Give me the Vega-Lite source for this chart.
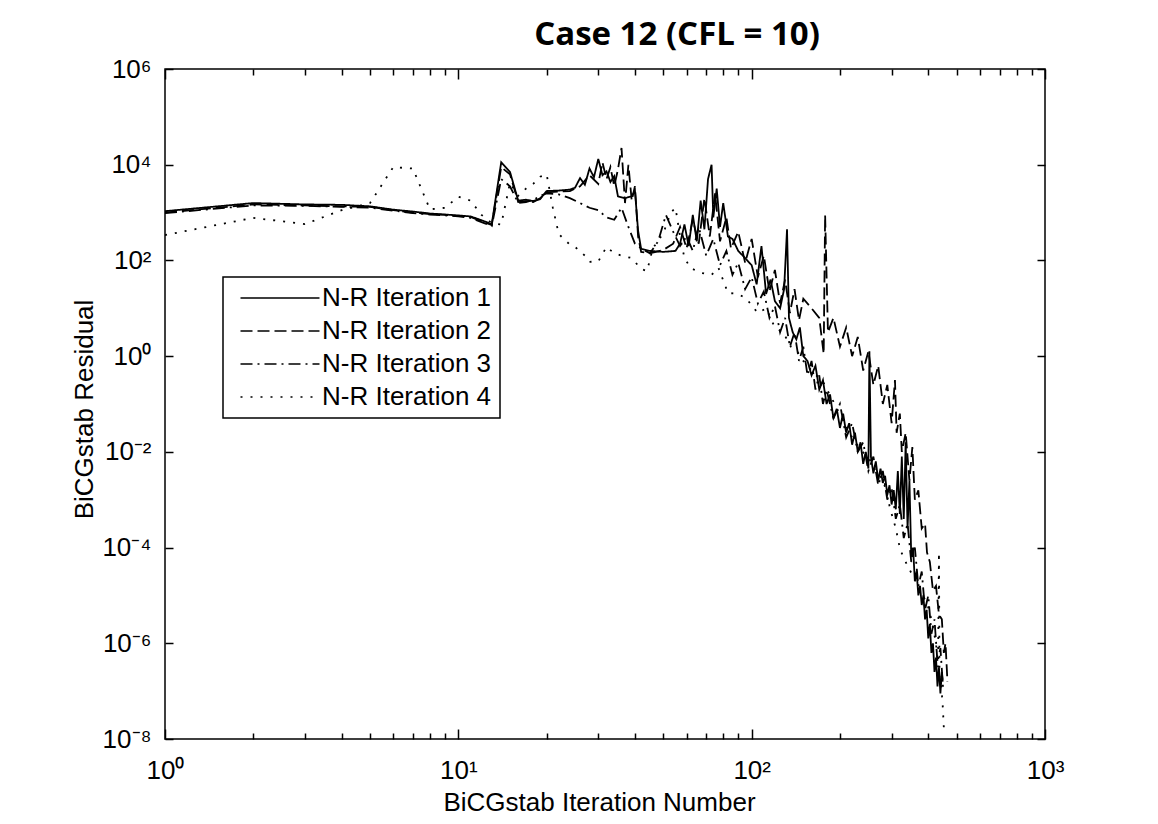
{
"$schema": "https://vega.github.io/schema/vega-lite/v6.json",
"width": 880, "height": 670,
"autosize": {"type": "none"},
"padding": {"left": 165, "top": 69, "right": 113, "bottom": 85},
"background": "white",
"title": {"text": "Case 12 (CFL = 10)", "font": "Open Sans", "fontSize": 33, "fontWeight": "bold", "color": "black", "anchor": "middle", "dx": 72, "dy": 46, "offset": 24, "baseline": "alphabetic"},
"config": {
  "view": {"stroke": "black", "strokeWidth": 1.5},
  "axis": {"domain": false, "grid": false, "tickColor": "black", "tickWidth": 1.5, "labelColor": "black", "labelFont": "Liberation Sans", "labelFontSize": 26, "titleFont": "Liberation Sans", "titleFontSize": 26, "titleFontWeight": "normal", "titleColor": "black", "labelFlush": false, "labelOverlap": false, "labelBound": false}
},
"data": {"values": [
{"n":1,"r":1070,"s":"N-R Iteration 1"},{"n":2,"r":1580,"s":"N-R Iteration 1"},{"n":3,"r":1480,"s":"N-R Iteration 1"},{"n":4,"r":1450,"s":"N-R Iteration 1"},{"n":5,"r":1350,"s":"N-R Iteration 1"},{"n":6,"r":1150,"s":"N-R Iteration 1"},{"n":7,"r":1050,"s":"N-R Iteration 1"},{"n":8,"r":955,"s":"N-R Iteration 1"},{"n":9,"r":912,"s":"N-R Iteration 1"},{"n":10,"r":871,"s":"N-R Iteration 1"},{"n":11,"r":832,"s":"N-R Iteration 1"},{"n":12,"r":692,"s":"N-R Iteration 1"},{"n":13,"r":575,"s":"N-R Iteration 1"},{"n":14,"r":11200,"s":"N-R Iteration 1"},{"n":15,"r":7080,"s":"N-R Iteration 1"},{"n":16,"r":1780,"s":"N-R Iteration 1"},{"n":17,"r":1860,"s":"N-R Iteration 1"},{"n":18,"r":1740,"s":"N-R Iteration 1"},{"n":19,"r":1910,"s":"N-R Iteration 1"},{"n":20,"r":2820,"s":"N-R Iteration 1"},{"n":22,"r":2880,"s":"N-R Iteration 1"},{"n":24,"r":3020,"s":"N-R Iteration 1"},{"n":25,"r":3310,"s":"N-R Iteration 1"},{"n":26,"r":5250,"s":"N-R Iteration 1"},{"n":27,"r":3800,"s":"N-R Iteration 1"},{"n":28,"r":8320,"s":"N-R Iteration 1"},{"n":29,"r":5500,"s":"N-R Iteration 1"},{"n":30,"r":13200,"s":"N-R Iteration 1"},{"n":31,"r":6030,"s":"N-R Iteration 1"},{"n":32,"r":7240,"s":"N-R Iteration 1"},{"n":33,"r":4370,"s":"N-R Iteration 1"},{"n":34,"r":5750,"s":"N-R Iteration 1"},{"n":35,"r":2190,"s":"N-R Iteration 1"},{"n":37,"r":2000,"s":"N-R Iteration 1"},{"n":39,"r":2190,"s":"N-R Iteration 1"},{"n":40,"r":2880,"s":"N-R Iteration 1"},{"n":41,"r":417,"s":"N-R Iteration 1"},{"n":42,"r":174,"s":"N-R Iteration 1"},{"n":45,"r":158,"s":"N-R Iteration 1"},{"n":50,"r":151,"s":"N-R Iteration 1"},{"n":55,"r":158,"s":"N-R Iteration 1"},{"n":57,"r":224,"s":"N-R Iteration 1"},{"n":59,"r":562,"s":"N-R Iteration 1"},{"n":61,"r":200,"s":"N-R Iteration 1"},{"n":63,"r":891,"s":"N-R Iteration 1"},{"n":65,"r":251,"s":"N-R Iteration 1"},{"n":67,"r":1780,"s":"N-R Iteration 1"},{"n":69,"r":447,"s":"N-R Iteration 1"},{"n":71,"r":5010,"s":"N-R Iteration 1"},{"n":73,"r":10000,"s":"N-R Iteration 1"},{"n":74,"r":794,"s":"N-R Iteration 1"},{"n":76,"r":3160,"s":"N-R Iteration 1"},{"n":78,"r":501,"s":"N-R Iteration 1"},{"n":80,"r":1580,"s":"N-R Iteration 1"},{"n":83,"r":316,"s":"N-R Iteration 1"},{"n":86,"r":282,"s":"N-R Iteration 1"},{"n":90,"r":158,"s":"N-R Iteration 1"},{"n":95,"r":112,"s":"N-R Iteration 1"},{"n":100,"r":79.4,"s":"N-R Iteration 1"},{"n":104,"r":31.6,"s":"N-R Iteration 1"},{"n":108,"r":200,"s":"N-R Iteration 1"},{"n":112,"r":20,"s":"N-R Iteration 1"},{"n":116,"r":39.8,"s":"N-R Iteration 1"},{"n":120,"r":14.1,"s":"N-R Iteration 1"},{"n":125,"r":10,"s":"N-R Iteration 1"},{"n":129,"r":25.1,"s":"N-R Iteration 1"},{"n":132,"r":447,"s":"N-R Iteration 1"},{"n":134,"r":6.31,"s":"N-R Iteration 1"},{"n":138,"r":3.16,"s":"N-R Iteration 1"},{"n":142,"r":2.24,"s":"N-R Iteration 1"},{"n":146,"r":3.98,"s":"N-R Iteration 1"},{"n":150,"r":1,"s":"N-R Iteration 1"},{"n":155,"r":0.794,"s":"N-R Iteration 1"},{"n":160,"r":0.398,"s":"N-R Iteration 1"},{"n":165,"r":0.631,"s":"N-R Iteration 1"},{"n":170,"r":0.2,"s":"N-R Iteration 1"},{"n":175,"r":0.316,"s":"N-R Iteration 1"},{"n":180,"r":0.1,"s":"N-R Iteration 1"},{"n":185,"r":0.158,"s":"N-R Iteration 1"},{"n":190,"r":0.0501,"s":"N-R Iteration 1"},{"n":195,"r":0.0794,"s":"N-R Iteration 1"},{"n":200,"r":0.0316,"s":"N-R Iteration 1"},{"n":205,"r":0.0631,"s":"N-R Iteration 1"},{"n":210,"r":0.0251,"s":"N-R Iteration 1"},{"n":215,"r":0.0398,"s":"N-R Iteration 1"},{"n":220,"r":0.0141,"s":"N-R Iteration 1"},{"n":225,"r":0.0251,"s":"N-R Iteration 1"},{"n":230,"r":0.01,"s":"N-R Iteration 1"},{"n":235,"r":0.0158,"s":"N-R Iteration 1"},{"n":240,"r":0.00562,"s":"N-R Iteration 1"},{"n":245,"r":0.01,"s":"N-R Iteration 1"},{"n":250,"r":0.00447,"s":"N-R Iteration 1"},{"n":252,"r":1.26,"s":"N-R Iteration 1"},{"n":255,"r":0.00794,"s":"N-R Iteration 1"},{"n":260,"r":0.00355,"s":"N-R Iteration 1"},{"n":265,"r":0.00631,"s":"N-R Iteration 1"},{"n":270,"r":0.00251,"s":"N-R Iteration 1"},{"n":275,"r":0.00447,"s":"N-R Iteration 1"},{"n":280,"r":0.00224,"s":"N-R Iteration 1"},{"n":285,"r":0.00316,"s":"N-R Iteration 1"},{"n":290,"r":0.00126,"s":"N-R Iteration 1"},{"n":295,"r":0.002,"s":"N-R Iteration 1"},{"n":300,"r":0.000794,"s":"N-R Iteration 1"},{"n":305,"r":0.00158,"s":"N-R Iteration 1"},{"n":310,"r":0.000631,"s":"N-R Iteration 1"},{"n":315,"r":0.00398,"s":"N-R Iteration 1"},{"n":320,"r":0.000501,"s":"N-R Iteration 1"},{"n":325,"r":0.00794,"s":"N-R Iteration 1"},{"n":330,"r":0.000398,"s":"N-R Iteration 1"},{"n":335,"r":0.0158,"s":"N-R Iteration 1"},{"n":340,"r":0.000251,"s":"N-R Iteration 1"},{"n":345,"r":0.00251,"s":"N-R Iteration 1"},{"n":350,"r":6.31e-5,"s":"N-R Iteration 1"},{"n":355,"r":1e-4,"s":"N-R Iteration 1"},{"n":360,"r":2e-5,"s":"N-R Iteration 1"},{"n":365,"r":3.16e-5,"s":"N-R Iteration 1"},{"n":370,"r":1e-5,"s":"N-R Iteration 1"},{"n":375,"r":1.58e-5,"s":"N-R Iteration 1"},{"n":380,"r":6.31e-6,"s":"N-R Iteration 1"},{"n":385,"r":1e-5,"s":"N-R Iteration 1"},{"n":390,"r":3.16e-6,"s":"N-R Iteration 1"},{"n":395,"r":5.01e-6,"s":"N-R Iteration 1"},{"n":400,"r":1.26e-6,"s":"N-R Iteration 1"},{"n":405,"r":2.51e-6,"s":"N-R Iteration 1"},{"n":410,"r":6.31e-7,"s":"N-R Iteration 1"},{"n":415,"r":1e-6,"s":"N-R Iteration 1"},{"n":420,"r":2.51e-7,"s":"N-R Iteration 1"},{"n":425,"r":5.01e-7,"s":"N-R Iteration 1"},{"n":430,"r":1.26e-7,"s":"N-R Iteration 1"},{"n":435,"r":3.16e-7,"s":"N-R Iteration 1"},{"n":440,"r":8.91e-8,"s":"N-R Iteration 1"},{"n":445,"r":2.51e-7,"s":"N-R Iteration 1"},{"n":448,"r":1.58e-7,"s":"N-R Iteration 1"},
{"n":1,"r":1000,"s":"N-R Iteration 2"},{"n":2,"r":1480,"s":"N-R Iteration 2"},{"n":3,"r":1410,"s":"N-R Iteration 2"},{"n":4,"r":1350,"s":"N-R Iteration 2"},{"n":5,"r":1320,"s":"N-R Iteration 2"},{"n":6,"r":1120,"s":"N-R Iteration 2"},{"n":7,"r":1000,"s":"N-R Iteration 2"},{"n":8,"r":933,"s":"N-R Iteration 2"},{"n":9,"r":891,"s":"N-R Iteration 2"},{"n":10,"r":851,"s":"N-R Iteration 2"},{"n":11,"r":813,"s":"N-R Iteration 2"},{"n":12,"r":661,"s":"N-R Iteration 2"},{"n":13,"r":550,"s":"N-R Iteration 2"},{"n":14,"r":8910,"s":"N-R Iteration 2"},{"n":15,"r":6310,"s":"N-R Iteration 2"},{"n":16,"r":1660,"s":"N-R Iteration 2"},{"n":17,"r":1740,"s":"N-R Iteration 2"},{"n":18,"r":1660,"s":"N-R Iteration 2"},{"n":19,"r":2000,"s":"N-R Iteration 2"},{"n":20,"r":2630,"s":"N-R Iteration 2"},{"n":22,"r":2750,"s":"N-R Iteration 2"},{"n":24,"r":2820,"s":"N-R Iteration 2"},{"n":26,"r":3550,"s":"N-R Iteration 2"},{"n":28,"r":6030,"s":"N-R Iteration 2"},{"n":30,"r":3980,"s":"N-R Iteration 2"},{"n":31,"r":11200,"s":"N-R Iteration 2"},{"n":32,"r":5010,"s":"N-R Iteration 2"},{"n":33,"r":8910,"s":"N-R Iteration 2"},{"n":34,"r":3550,"s":"N-R Iteration 2"},{"n":35,"r":7940,"s":"N-R Iteration 2"},{"n":36,"r":22400,"s":"N-R Iteration 2"},{"n":37,"r":1580,"s":"N-R Iteration 2"},{"n":38,"r":10000,"s":"N-R Iteration 2"},{"n":39,"r":1780,"s":"N-R Iteration 2"},{"n":40,"r":3550,"s":"N-R Iteration 2"},{"n":41,"r":316,"s":"N-R Iteration 2"},{"n":42,"r":151,"s":"N-R Iteration 2"},{"n":45,"r":141,"s":"N-R Iteration 2"},{"n":50,"r":166,"s":"N-R Iteration 2"},{"n":54,"r":224,"s":"N-R Iteration 2"},{"n":57,"r":501,"s":"N-R Iteration 2"},{"n":60,"r":178,"s":"N-R Iteration 2"},{"n":63,"r":708,"s":"N-R Iteration 2"},{"n":66,"r":224,"s":"N-R Iteration 2"},{"n":69,"r":2000,"s":"N-R Iteration 2"},{"n":72,"r":316,"s":"N-R Iteration 2"},{"n":75,"r":2510,"s":"N-R Iteration 2"},{"n":78,"r":251,"s":"N-R Iteration 2"},{"n":82,"r":794,"s":"N-R Iteration 2"},{"n":85,"r":178,"s":"N-R Iteration 2"},{"n":90,"r":398,"s":"N-R Iteration 2"},{"n":95,"r":89.1,"s":"N-R Iteration 2"},{"n":100,"r":282,"s":"N-R Iteration 2"},{"n":105,"r":44.7,"s":"N-R Iteration 2"},{"n":110,"r":126,"s":"N-R Iteration 2"},{"n":115,"r":22.4,"s":"N-R Iteration 2"},{"n":120,"r":63.1,"s":"N-R Iteration 2"},{"n":125,"r":12.6,"s":"N-R Iteration 2"},{"n":130,"r":39.8,"s":"N-R Iteration 2"},{"n":135,"r":7.94,"s":"N-R Iteration 2"},{"n":140,"r":25.1,"s":"N-R Iteration 2"},{"n":145,"r":5.62,"s":"N-R Iteration 2"},{"n":150,"r":15.8,"s":"N-R Iteration 2"},{"n":160,"r":10,"s":"N-R Iteration 2"},{"n":170,"r":6.31,"s":"N-R Iteration 2"},{"n":176,"r":1.12,"s":"N-R Iteration 2"},{"n":178,"r":891,"s":"N-R Iteration 2"},{"n":182,"r":3.16,"s":"N-R Iteration 2"},{"n":190,"r":6.31,"s":"N-R Iteration 2"},{"n":200,"r":1.58,"s":"N-R Iteration 2"},{"n":210,"r":3.98,"s":"N-R Iteration 2"},{"n":220,"r":1,"s":"N-R Iteration 2"},{"n":230,"r":2.51,"s":"N-R Iteration 2"},{"n":240,"r":0.501,"s":"N-R Iteration 2"},{"n":250,"r":1.26,"s":"N-R Iteration 2"},{"n":260,"r":0.251,"s":"N-R Iteration 2"},{"n":270,"r":0.631,"s":"N-R Iteration 2"},{"n":280,"r":0.1,"s":"N-R Iteration 2"},{"n":290,"r":0.251,"s":"N-R Iteration 2"},{"n":300,"r":0.0398,"s":"N-R Iteration 2"},{"n":308,"r":0.316,"s":"N-R Iteration 2"},{"n":312,"r":0.0251,"s":"N-R Iteration 2"},{"n":320,"r":0.0631,"s":"N-R Iteration 2"},{"n":325,"r":0.01,"s":"N-R Iteration 2"},{"n":335,"r":0.0251,"s":"N-R Iteration 2"},{"n":345,"r":0.00251,"s":"N-R Iteration 2"},{"n":353,"r":0.0126,"s":"N-R Iteration 2"},{"n":360,"r":0.001,"s":"N-R Iteration 2"},{"n":370,"r":0.00158,"s":"N-R Iteration 2"},{"n":380,"r":2.51e-4,"s":"N-R Iteration 2"},{"n":390,"r":3.16e-4,"s":"N-R Iteration 2"},{"n":396,"r":7.94e-5,"s":"N-R Iteration 2"},{"n":405,"r":5.01e-5,"s":"N-R Iteration 2"},{"n":415,"r":1.26e-5,"s":"N-R Iteration 2"},{"n":425,"r":1.58e-5,"s":"N-R Iteration 2"},{"n":435,"r":3.98e-6,"s":"N-R Iteration 2"},{"n":445,"r":3.16e-6,"s":"N-R Iteration 2"},{"n":452,"r":6.31e-7,"s":"N-R Iteration 2"},{"n":458,"r":1e-6,"s":"N-R Iteration 2"},{"n":465,"r":1.58e-7,"s":"N-R Iteration 2"},
{"n":1,"r":977,"s":"N-R Iteration 3"},{"n":2,"r":1410,"s":"N-R Iteration 3"},{"n":3,"r":1380,"s":"N-R Iteration 3"},{"n":4,"r":1320,"s":"N-R Iteration 3"},{"n":5,"r":1260,"s":"N-R Iteration 3"},{"n":6,"r":1100,"s":"N-R Iteration 3"},{"n":7,"r":977,"s":"N-R Iteration 3"},{"n":8,"r":912,"s":"N-R Iteration 3"},{"n":9,"r":871,"s":"N-R Iteration 3"},{"n":10,"r":832,"s":"N-R Iteration 3"},{"n":11,"r":776,"s":"N-R Iteration 3"},{"n":12,"r":631,"s":"N-R Iteration 3"},{"n":13,"r":525,"s":"N-R Iteration 3"},{"n":14,"r":5010,"s":"N-R Iteration 3"},{"n":15,"r":3550,"s":"N-R Iteration 3"},{"n":16,"r":1580,"s":"N-R Iteration 3"},{"n":17,"r":1660,"s":"N-R Iteration 3"},{"n":18,"r":1820,"s":"N-R Iteration 3"},{"n":19,"r":2240,"s":"N-R Iteration 3"},{"n":20,"r":2510,"s":"N-R Iteration 3"},{"n":22,"r":2400,"s":"N-R Iteration 3"},{"n":24,"r":2000,"s":"N-R Iteration 3"},{"n":26,"r":1580,"s":"N-R Iteration 3"},{"n":28,"r":1260,"s":"N-R Iteration 3"},{"n":30,"r":1120,"s":"N-R Iteration 3"},{"n":32,"r":794,"s":"N-R Iteration 3"},{"n":34,"r":708,"s":"N-R Iteration 3"},{"n":36,"r":1260,"s":"N-R Iteration 3"},{"n":38,"r":501,"s":"N-R Iteration 3"},{"n":40,"r":224,"s":"N-R Iteration 3"},{"n":42,"r":178,"s":"N-R Iteration 3"},{"n":45,"r":141,"s":"N-R Iteration 3"},{"n":48,"r":251,"s":"N-R Iteration 3"},{"n":51,"r":891,"s":"N-R Iteration 3"},{"n":54,"r":398,"s":"N-R Iteration 3"},{"n":57,"r":200,"s":"N-R Iteration 3"},{"n":60,"r":316,"s":"N-R Iteration 3"},{"n":63,"r":158,"s":"N-R Iteration 3"},{"n":66,"r":501,"s":"N-R Iteration 3"},{"n":70,"r":126,"s":"N-R Iteration 3"},{"n":74,"r":282,"s":"N-R Iteration 3"},{"n":78,"r":79.4,"s":"N-R Iteration 3"},{"n":82,"r":158,"s":"N-R Iteration 3"},{"n":86,"r":50.1,"s":"N-R Iteration 3"},{"n":90,"r":89.1,"s":"N-R Iteration 3"},{"n":95,"r":25.1,"s":"N-R Iteration 3"},{"n":100,"r":44.7,"s":"N-R Iteration 3"},{"n":105,"r":12.6,"s":"N-R Iteration 3"},{"n":110,"r":22.4,"s":"N-R Iteration 3"},{"n":115,"r":6.31,"s":"N-R Iteration 3"},{"n":120,"r":11.2,"s":"N-R Iteration 3"},{"n":125,"r":3.16,"s":"N-R Iteration 3"},{"n":130,"r":6.31,"s":"N-R Iteration 3"},{"n":135,"r":1.58,"s":"N-R Iteration 3"},{"n":140,"r":3.16,"s":"N-R Iteration 3"},{"n":145,"r":0.794,"s":"N-R Iteration 3"},{"n":150,"r":1.58,"s":"N-R Iteration 3"},{"n":155,"r":0.398,"s":"N-R Iteration 3"},{"n":160,"r":0.794,"s":"N-R Iteration 3"},{"n":165,"r":0.2,"s":"N-R Iteration 3"},{"n":170,"r":0.398,"s":"N-R Iteration 3"},{"n":175,"r":0.1,"s":"N-R Iteration 3"},{"n":180,"r":0.2,"s":"N-R Iteration 3"},{"n":190,"r":0.0501,"s":"N-R Iteration 3"},{"n":200,"r":0.1,"s":"N-R Iteration 3"},{"n":210,"r":0.02,"s":"N-R Iteration 3"},{"n":220,"r":0.0398,"s":"N-R Iteration 3"},{"n":230,"r":0.01,"s":"N-R Iteration 3"},{"n":240,"r":0.0158,"s":"N-R Iteration 3"},{"n":250,"r":0.00398,"s":"N-R Iteration 3"},{"n":260,"r":0.00794,"s":"N-R Iteration 3"},{"n":270,"r":0.002,"s":"N-R Iteration 3"},{"n":280,"r":0.00398,"s":"N-R Iteration 3"},{"n":290,"r":0.001,"s":"N-R Iteration 3"},{"n":300,"r":0.00178,"s":"N-R Iteration 3"},{"n":310,"r":3.98e-4,"s":"N-R Iteration 3"},{"n":320,"r":7.94e-4,"s":"N-R Iteration 3"},{"n":330,"r":1.58e-4,"s":"N-R Iteration 3"},{"n":340,"r":3.16e-4,"s":"N-R Iteration 3"},{"n":350,"r":5.01e-5,"s":"N-R Iteration 3"},{"n":360,"r":1e-4,"s":"N-R Iteration 3"},{"n":370,"r":1.58e-5,"s":"N-R Iteration 3"},{"n":380,"r":3.16e-5,"s":"N-R Iteration 3"},{"n":390,"r":5.01e-6,"s":"N-R Iteration 3"},{"n":400,"r":1e-5,"s":"N-R Iteration 3"},{"n":410,"r":1.58e-6,"s":"N-R Iteration 3"},{"n":420,"r":3.16e-6,"s":"N-R Iteration 3"},{"n":430,"r":3.98e-7,"s":"N-R Iteration 3"},{"n":440,"r":7.94e-7,"s":"N-R Iteration 3"},{"n":450,"r":1e-7,"s":"N-R Iteration 3"},
{"n":1,"r":339,"s":"N-R Iteration 4"},{"n":2,"r":776,"s":"N-R Iteration 4"},{"n":3,"r":575,"s":"N-R Iteration 4"},{"n":4,"r":1120,"s":"N-R Iteration 4"},{"n":5,"r":1580,"s":"N-R Iteration 4"},{"n":6,"r":8910,"s":"N-R Iteration 4"},{"n":7,"r":8320,"s":"N-R Iteration 4"},{"n":8,"r":1170,"s":"N-R Iteration 4"},{"n":9,"r":1260,"s":"N-R Iteration 4"},{"n":10,"r":2140,"s":"N-R Iteration 4"},{"n":11,"r":1780,"s":"N-R Iteration 4"},{"n":12,"r":891,"s":"N-R Iteration 4"},{"n":13,"r":603,"s":"N-R Iteration 4"},{"n":14,"r":562,"s":"N-R Iteration 4"},{"n":15,"r":4170,"s":"N-R Iteration 4"},{"n":16,"r":2240,"s":"N-R Iteration 4"},{"n":17,"r":3160,"s":"N-R Iteration 4"},{"n":18,"r":3980,"s":"N-R Iteration 4"},{"n":19,"r":5620,"s":"N-R Iteration 4"},{"n":20,"r":6310,"s":"N-R Iteration 4"},{"n":21,"r":1260,"s":"N-R Iteration 4"},{"n":22,"r":355,"s":"N-R Iteration 4"},{"n":24,"r":214,"s":"N-R Iteration 4"},{"n":25,"r":191,"s":"N-R Iteration 4"},{"n":27,"r":126,"s":"N-R Iteration 4"},{"n":28,"r":93.3,"s":"N-R Iteration 4"},{"n":30,"r":95.5,"s":"N-R Iteration 4"},{"n":32,"r":191,"s":"N-R Iteration 4"},{"n":34,"r":141,"s":"N-R Iteration 4"},{"n":36,"r":126,"s":"N-R Iteration 4"},{"n":39,"r":112,"s":"N-R Iteration 4"},{"n":42,"r":66.1,"s":"N-R Iteration 4"},{"n":44,"r":60.3,"s":"N-R Iteration 4"},{"n":46,"r":178,"s":"N-R Iteration 4"},{"n":50,"r":372,"s":"N-R Iteration 4"},{"n":53,"r":1000,"s":"N-R Iteration 4"},{"n":55,"r":1260,"s":"N-R Iteration 4"},{"n":57,"r":316,"s":"N-R Iteration 4"},{"n":59,"r":112,"s":"N-R Iteration 4"},{"n":62,"r":69.2,"s":"N-R Iteration 4"},{"n":67,"r":55,"s":"N-R Iteration 4"},{"n":73,"r":50.1,"s":"N-R Iteration 4"},{"n":77,"r":70.8,"s":"N-R Iteration 4"},{"n":83,"r":20.9,"s":"N-R Iteration 4"},{"n":90,"r":20,"s":"N-R Iteration 4"},{"n":96,"r":15.8,"s":"N-R Iteration 4"},{"n":105,"r":7.94,"s":"N-R Iteration 4"},{"n":112,"r":10,"s":"N-R Iteration 4"},{"n":120,"r":3.98,"s":"N-R Iteration 4"},{"n":128,"r":3.16,"s":"N-R Iteration 4"},{"n":136,"r":1.58,"s":"N-R Iteration 4"},{"n":143,"r":1.26,"s":"N-R Iteration 4"},{"n":150,"r":0.794,"s":"N-R Iteration 4"},{"n":160,"r":0.501,"s":"N-R Iteration 4"},{"n":176,"r":0.275,"s":"N-R Iteration 4"},{"n":190,"r":0.112,"s":"N-R Iteration 4"},{"n":206,"r":0.0427,"s":"N-R Iteration 4"},{"n":220,"r":0.02,"s":"N-R Iteration 4"},{"n":235,"r":0.0112,"s":"N-R Iteration 4"},{"n":253,"r":0.00676,"s":"N-R Iteration 4"},{"n":265,"r":0.00398,"s":"N-R Iteration 4"},{"n":281,"r":0.00257,"s":"N-R Iteration 4"},{"n":297,"r":6.31e-4,"s":"N-R Iteration 4"},{"n":310,"r":2.51e-4,"s":"N-R Iteration 4"},{"n":321,"r":8.91e-5,"s":"N-R Iteration 4"},{"n":338,"r":4.47e-5,"s":"N-R Iteration 4"},{"n":355,"r":2.51e-5,"s":"N-R Iteration 4"},{"n":375,"r":1.26e-5,"s":"N-R Iteration 4"},{"n":396,"r":6.92e-6,"s":"N-R Iteration 4"},{"n":410,"r":3.16e-6,"s":"N-R Iteration 4"},{"n":425,"r":1e-6,"s":"N-R Iteration 4"},{"n":432,"r":3.16e-7,"s":"N-R Iteration 4"},{"n":435,"r":7.94e-5,"s":"N-R Iteration 4"},{"n":437,"r":1.58e-7,"s":"N-R Iteration 4"},{"n":443,"r":1.26e-7,"s":"N-R Iteration 4"},{"n":448,"r":5.01e-8,"s":"N-R Iteration 4"},{"n":452,"r":1.7e-8,"s":"N-R Iteration 4"}
]},
"layer": [
 {
  "mark": {"type": "line", "color": "black", "strokeWidth": 1.8, "clip": true},
  "encoding": {
   "x": {"field": "n", "type": "quantitative",
     "scale": {"type": "log", "domain": [1, 1000], "nice": false},
     "axis": {"orient": "bottom",
       "values": [1,2,3,4,5,6,7,8,9,10,20,30,40,50,60,70,80,90,100,200,300,400,500,600,700,800,900,1000],
       "labelExpr": "abs(log(datum.value)/LN10 - round(log(datum.value)/LN10)) < 0.001 ? '10' + ['⁰','¹','²','³','⁴','⁵','⁶','⁷','⁸','⁹'][round(log(datum.value)/LN10)] : ''",
       "tickSize": {"condition": {"test": "abs(log(datum.value)/LN10 - round(log(datum.value)/LN10)) < 0.001", "value": -10}, "value": -6},
       "labelPadding": 28,
       "title": "BiCGstab Iteration Number", "titleX": 434, "titleY": 71, "titleBaseline": "alphabetic", "titleAlign": "center"}},
   "y": {"field": "r", "type": "quantitative",
     "scale": {"type": "log", "domain": [1e-8, 1e6], "nice": false},
     "axis": {"orient": "left",
       "values": [1e-8, 1e-6, 1e-4, 1e-2, 1, 100, 10000, 1000000],
       "labelExpr": "'10' + (datum.value < 0.5 ? '⁻' : '') + ['⁰','¹','²','³','⁴','⁵','⁶','⁷','⁸','⁹'][abs(round(log(datum.value)/LN10))]",
       "tickSize": -8,
       "labelPadding": 22,
       "title": "BiCGstab Residual", "titleX": -73, "titleY": 340, "titleAngle": -90, "titleBaseline": "alphabetic", "titleAlign": "center"}},
   "strokeDash": {"field": "s", "type": "nominal",
     "scale": {"domain": ["N-R Iteration 1", "N-R Iteration 2", "N-R Iteration 3", "N-R Iteration 4"], "range": [[1, 0], [12, 5], [12, 5, 2, 5], [2, 8]]},
     "legend": {"title": null, "orient": "none", "legendX": 58, "legendY": 208,
       "strokeColor": "black", "fillColor": "white", "padding": 8,
       "symbolType": "M-8,0H8", "symbolSize": 97.5, "symbolStrokeWidth": 1.5, "symbolStrokeColor": "black", "symbolFillColor": "transparent",
       "symbolOffset": 36, "labelOffset": 29,
       "labelFont": "Liberation Sans", "labelFontSize": 26, "labelColor": "black", "labelLimit": 400, "rowPadding": 7,
       "encode": {"legend": {"update": {"strokeWidth": {"value": 1.5}}}}}}
  }
 },
 {
  "mark": {"type": "point", "opacity": 0},
  "encoding": {
   "x": {"field": "n", "type": "quantitative",
     "axis": {"orient": "top", "values": [1,2,3,4,5,6,7,8,9,10,20,30,40,50,60,70,80,90,100,200,300,400,500,600,700,800,900,1000],
       "labels": false, "title": null,
       "tickSize": {"condition": {"test": "abs(log(datum.value)/LN10 - round(log(datum.value)/LN10)) < 0.001", "value": -10}, "value": -6}}},
   "y": {"field": "r", "type": "quantitative",
     "axis": {"orient": "right", "values": [1e-8, 1e-6, 1e-4, 1e-2, 1, 100, 10000, 1000000], "labels": false, "title": null, "tickSize": -8}}
  }
 }
],
"resolve": {"axis": {"x": "independent", "y": "independent"}}
}
